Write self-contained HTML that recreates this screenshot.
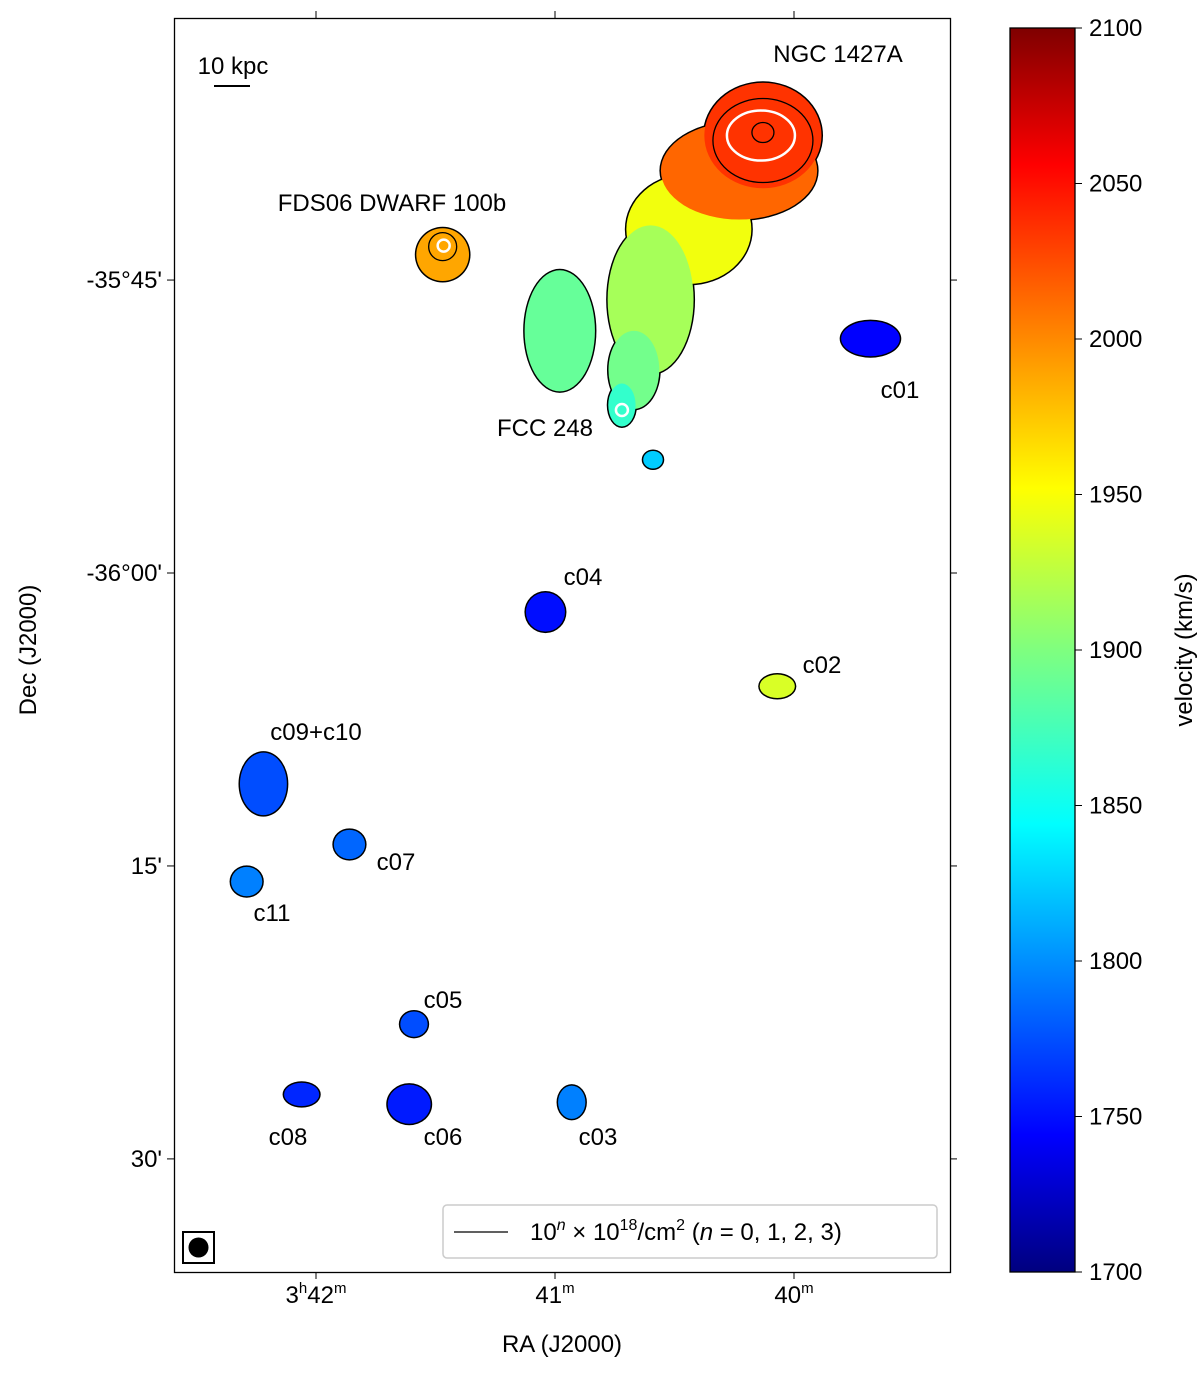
<!DOCTYPE html>
<html><head><meta charset="utf-8"><style>
body{margin:0;background:#fff;}
svg text{font-family:"Liberation Sans","DejaVu Sans",sans-serif;fill:#000;}
</style></head><body>
<svg id="chart" width="1200" height="1369" viewBox="0 0 1200 1369" xmlns="http://www.w3.org/2000/svg">
<defs>
<linearGradient id="jet" x1="0" y1="1" x2="0" y2="0">
<stop offset="0" stop-color="#00007f"/><stop offset="0.11" stop-color="#0000ff"/>
<stop offset="0.36" stop-color="#00ffff"/><stop offset="0.5" stop-color="#7fff7f"/>
<stop offset="0.63" stop-color="#ffff00"/><stop offset="0.89" stop-color="#ff0000"/>
<stop offset="1" stop-color="#7f0000"/>
</linearGradient>
</defs>
<g id="marks"></g>
<g id="axes"></g>
</svg>
<script>
// Source components: RA (minutes past 3h), Dec offset (arcmin south of -36°00'), velocity (km/s), size (arcmin)
const srcNames=["ngc-core","ngc-orange","ngc-body","ngc-tail","ngc-tail-low","fcc248","west-blob","fds06","c01","knot","c04","c02","c09-c10","c07","c11","c05","c08","c06","c03"];
const srcRA=[40.13,40.23,40.44,40.60,40.67,40.72,40.98,41.47,39.68,40.59,41.04,40.07,42.22,41.86,42.29,41.59,42.06,41.61,40.93];
const srcDec=[-22.4,-20.6,-17.6,-14.0,-10.4,-8.6,-12.4,-16.3,-12.0,-5.8,2.0,5.8,10.8,13.9,15.8,23.1,26.7,27.2,27.1];
const srcVel=[2030,2010,1945,1915,1895,1870,1890,1985,1750,1830,1755,1935,1780,1790,1800,1780,1765,1760,1800];
const srcRx=[3.0,4.0,3.2,2.2,1.3,0.7,1.8,1.35,1.5,0.5,1.0,0.9,1.2,0.8,0.8,0.7,0.9,1.1,0.7];
const srcRy=[2.7,2.5,2.8,3.8,2.0,1.1,3.1,1.35,0.9,0.45,1.0,0.6,1.6,0.75,0.75,0.65,0.6,1.0,0.85];
const labels=["NGC 1427A","FDS06 DWARF 100b","c01","FCC 248","c04","c02","c09+c10","c07","c11","c05","c08","c06","c03"];
const labelX=[838,392,900,545,583,822,316,396,272,443,288,443,598];
const labelY=[62,211,398,436,585,673,740,870,921,1008,1145,1145,1145];
const raTicks=[42,41,40];
const decTicks=[-15,0,15,30];const decLabels=["-35°45'","-36°00'","15'","30'"];
const cbTicks=[1700,1750,1800,1850,1900,1950,2000,2050,2100];

const px=r=>555-(r-41)*239;
const py=d=>573+d*19.53;
const S=19.53;
const cbY=v=>1272-(v-1700)/400*1244;
function jet(v){let t=(v-1700)/400;const c=x=>Math.round(255*Math.max(0,Math.min(1,x)));
return `rgb(${c(1.5-Math.abs(4*t-3))},${c(1.5-Math.abs(4*t-2))},${c(1.5-Math.abs(4*t-1))})`;}
const NS="http://www.w3.org/2000/svg";
function mk(t,a,p){const e=document.createElementNS(NS,t);for(const k in a)e.setAttribute(k,a[k]);(p||document.getElementById('marks')).appendChild(e);return e;}
const marks=document.getElementById('marks'),axes=document.getElementById('axes');
const order=[2,3,4,5,6,1,0,7,8,9,10,11,12,13,14,15,16,17,18];
order.forEach(i=>{const e=mk('ellipse',{cx:px(srcRA[i]),cy:py(srcDec[i]),rx:srcRx[i]*S+1.5,ry:srcRy[i]*S+1.5,fill:'#000'});

});
order.forEach(i=>{const e=mk('ellipse',{cx:px(srcRA[i]),cy:py(srcDec[i]),rx:srcRx[i]*S,ry:srcRy[i]*S,fill:jet(srcVel[i])});

});
const cx0=px(srcRA[0]),cy0=py(srcDec[0]),cx7=px(srcRA[7]),cy7=py(srcDec[7]);
[[cx0,cy0+5,50,42,'#000'],[cx0-2,cy0,34,25,'#fff'],[cx0,cy0-3,11,10,'#000'],[cx7,cy7-8,14,14,'#000'],[cx7+1,cy7-9,6,6,'#fff'],[px(srcRA[5]),py(srcDec[5])+5,6,6,'#fff']].forEach(c=>{
const e=mk('ellipse',{cx:c[0],cy:c[1],rx:c[2],ry:c[3],fill:'none',stroke:c[4],'stroke-width':c[4]=='#fff'?2.5:1.3});

});
let e=mk('rect',{x:174.5,y:18.5,width:776,height:1254,fill:'none',stroke:'#000','stroke-width':1.3},axes);

raTicks.forEach((r,i)=>{const x=px(r);
mk('line',{x1:x,x2:x,y1:1272,y2:1279,stroke:'#000'},axes);mk('line',{x1:x,x2:x,y1:18,y2:11,stroke:'#000'},axes);
const t=mk('text',{x:x,y:1303,'text-anchor':'middle','font-size':24},axes);

if(i==0){t.innerHTML='3<tspan font-size="15" dy="-10">h</tspan><tspan dy="10">42</tspan><tspan font-size="15" dy="-10">m</tspan>';}
else t.innerHTML=r+'<tspan font-size="15" dy="-10">m</tspan>';});
decTicks.forEach((d,i)=>{const y=py(d);
mk('line',{x1:174,x2:167,y1:y,y2:y,stroke:'#000'},axes);mk('line',{x1:950,x2:957,y1:y,y2:y,stroke:'#000'},axes);
const t=mk('text',{x:162,y:y+8,'text-anchor':'end','font-size':24},axes);t.textContent=decLabels[i];
});
e=mk('text',{x:562,y:1352,'text-anchor':'middle','font-size':24},axes);e.textContent='RA (J2000)';

e=mk('text',{x:36,y:650,'text-anchor':'middle','font-size':24,transform:'rotate(-90 36 650)'},axes);e.textContent='Dec (J2000)';

labels.forEach((l,i)=>{const t=mk('text',{x:labelX[i],y:labelY[i],'text-anchor':'middle','font-size':24},axes);t.textContent=l;
});
e=mk('text',{x:233,y:74,'text-anchor':'middle','font-size':24},axes);e.textContent='10 kpc';

mk('line',{x1:214,x2:250,y1:86,y2:86,stroke:'#000','stroke-width':2},axes);
e=mk('rect',{x:183,y:1232,width:31,height:31,fill:'none',stroke:'#000','stroke-width':2},axes);

mk('circle',{cx:198.5,cy:1247.5,r:10,fill:'#000'},axes);
e=mk('rect',{x:443,y:1205,width:494,height:53,rx:4,fill:'#fff',stroke:'#ccc','stroke-width':1.5},axes);

mk('line',{x1:454,x2:508,y1:1232,y2:1232,stroke:'#000','stroke-width':1.3},axes);
e=mk('text',{x:530,y:1240,'font-size':24},axes);
e.innerHTML='10<tspan font-size="16" dy="-10" font-style="italic">n</tspan><tspan dy="10"> × 10</tspan><tspan font-size="16" dy="-10">18</tspan><tspan dy="10">/cm</tspan><tspan font-size="16" dy="-10">2</tspan><tspan dy="10"> (</tspan><tspan font-style="italic">n</tspan> = 0, 1, 2, 3)';

e=mk('rect',{x:1010,y:28,width:65,height:1244,fill:'url(#jet)',stroke:'#000','stroke-width':1.3},axes);

cbTicks.forEach(v=>{const y=cbY(v);mk('line',{x1:1075,x2:1082,y1:y,y2:y,stroke:'#000'},axes);
const t=mk('text',{x:1089,y:y+8,'font-size':24},axes);t.textContent=v;
});
e=mk('text',{x:1192,y:650,'text-anchor':'middle','font-size':24,transform:'rotate(-90 1192 650)'},axes);e.textContent='velocity (km/s)';

</script>
</body></html>
